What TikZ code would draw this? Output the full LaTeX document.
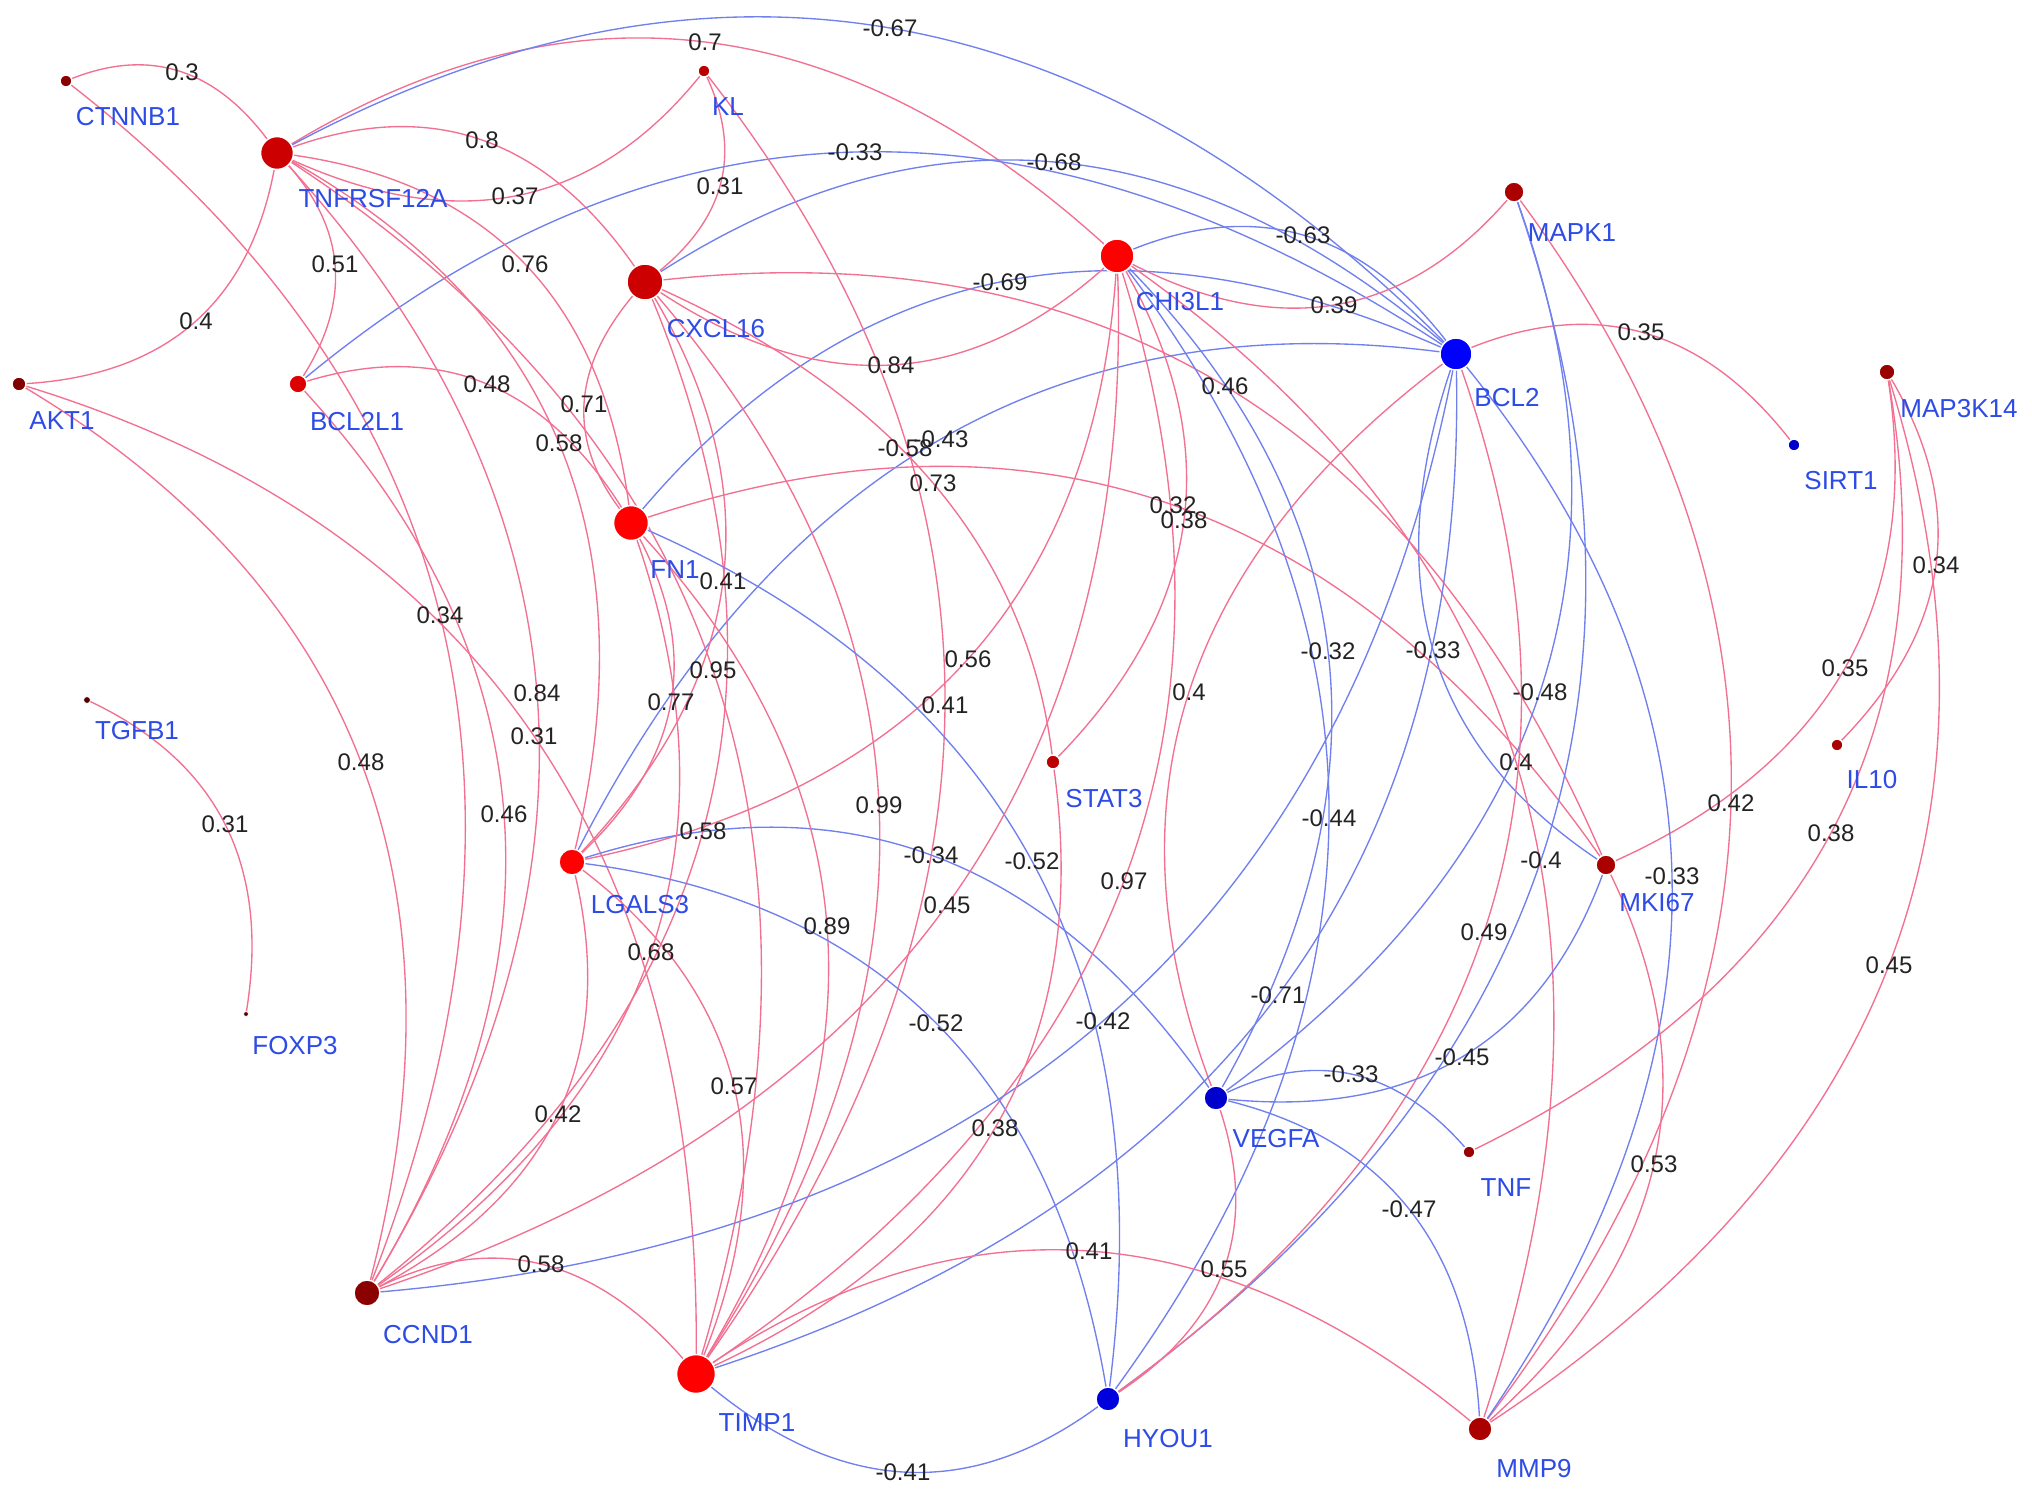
\documentclass[tikz,border=0pt]{standalone}
\usepackage{fontspec}
\setmainfont{Liberation Sans}
\usetikzlibrary{calc}
\pgfdeclarelayer{paper}
\pgfdeclarelayer{edges}
\pgfsetlayers{paper,edges,main}
\definecolor{pinkE}{RGB}{242,112,145}
\definecolor{blueE}{RGB}{112,128,238}
\definecolor{gname}{RGB}{45,75,230}
\definecolor{numc}{RGB}{35,35,35}
\newcounter{elab}
\newcommand\gedge[5]{%
  \begin{pgfonlayer}{edges}
  \draw[#1] (#2.center) .. controls ($1.3333*(#4)-0.3333*(#3.center)$) and ($1.3333*(#4)-0.3333*(#2.center)$) .. (#3.center);
  \end{pgfonlayer}%
  \stepcounter{elab}%
  \node[num] (e\theelab) at (#4) {#5};}
\begin{document}
\begin{tikzpicture}[x=1pt,y=-1pt,
  gene/.style={circle,draw=white,line width=1.5pt,inner sep=0pt},
  gl/.style={text=gname,font=\fontsize{26}{28}\selectfont,inner sep=0pt},
  num/.style={text=numc,font=\fontsize{24}{26}\selectfont,inner sep=0pt},
  pe/.style={draw=pinkE,line width=1.35pt},
  be/.style={draw=blueE,line width=1.35pt}]
\begin{pgfonlayer}{paper}
\fill[white] (0,0) rectangle (2032,1494);
\end{pgfonlayer}
\useasboundingbox (0,0) rectangle (2032,1494);

% gene nodes
\node[gene,fill={rgb,255:red,139;green,0;blue,0},minimum size=12pt] (CT) at (66,81) {};
\node[gene,fill={rgb,255:red,204;green,0;blue,0},minimum size=33pt] (TN) at (277,153) {};
\node[gene,fill={rgb,255:red,187;green,0;blue,0},minimum size=12pt] (KL) at (704,71) {};
\node[gene,fill={rgb,255:red,204;green,0;blue,0},minimum size=36pt] (CX) at (645,282) {};
\node[gene,fill={rgb,255:red,255;green,0;blue,0},minimum size=34pt] (CH) at (1117,256) {};
\node[gene,fill={rgb,255:red,170;green,0;blue,0},minimum size=20pt] (MA) at (1514,192) {};
\node[gene,fill={rgb,255:red,0;green,0;blue,255},minimum size=32pt] (B2) at (1456,354) {};
\node[gene,fill={rgb,255:red,0;green,0;blue,204},minimum size=12pt] (SI) at (1794,445) {};
\node[gene,fill={rgb,255:red,153;green,0;blue,0},minimum size=16pt] (M3) at (1887,372) {};
\node[gene,fill={rgb,255:red,128;green,0;blue,0},minimum size=14pt] (AK) at (19,384) {};
\node[gene,fill={rgb,255:red,221;green,0;blue,0},minimum size=18pt] (BL) at (298,384) {};
\node[gene,fill={rgb,255:red,255;green,0;blue,0},minimum size=35pt] (FN) at (631,523) {};
\node[gene,fill={rgb,255:red,85;green,0;blue,0},minimum size=7pt,line width=0.8pt] (TG) at (87,700) {};
\node[gene,fill={rgb,255:red,85;green,0;blue,0},minimum size=5pt,line width=0.8pt] (FO) at (246,1014) {};
\node[gene,fill={rgb,255:red,255;green,0;blue,0},minimum size=26pt] (LG) at (572,862) {};
\node[gene,fill={rgb,255:red,187;green,0;blue,0},minimum size=14pt] (ST) at (1053,762) {};
\node[gene,fill={rgb,255:red,170;green,0;blue,0},minimum size=12pt] (IL) at (1837,745) {};
\node[gene,fill={rgb,255:red,170;green,0;blue,0},minimum size=20pt] (MK) at (1606,865) {};
\node[gene,fill={rgb,255:red,0;green,0;blue,204},minimum size=24pt] (VE) at (1216,1098) {};
\node[gene,fill={rgb,255:red,153;green,0;blue,0},minimum size=12pt] (TF) at (1469,1152) {};
\node[gene,fill={rgb,255:red,139;green,0;blue,0},minimum size=26pt] (CC) at (367,1293) {};
\node[gene,fill={rgb,255:red,255;green,0;blue,0},minimum size=39pt] (TI) at (696,1374) {};
\node[gene,fill={rgb,255:red,0;green,0;blue,221},minimum size=24pt] (HY) at (1108,1399) {};
\node[gene,fill={rgb,255:red,170;green,0;blue,0},minimum size=24pt] (MM) at (1480,1429) {};

% gene labels
\node[gl] (CTl) at (128,117) {CTNNB1};
\node[gl] (TNl) at (373,199) {TNFRSF12A};
\node[gl] (AKl) at (62,421) {AKT1};
\node[gl] (BLl) at (357,422) {BCL2L1};
\node[gl] (KLl) at (728,107) {KL};
\node[gl] (CXl) at (716,329) {CXCL16};
\node[gl] (CHl) at (1180,302) {CHI3L1};
\node[gl] (B2l) at (1507,398) {BCL2};
\node[gl] (MAl) at (1572,233) {MAPK1};
\node[gl] (SIl) at (1841,481) {SIRT1};
\node[gl] (M3l) at (1959,409) {MAP3K14};
\node[gl] (TGl) at (137,731) {TGFB1};
\node[gl] (FOl) at (295,1046) {FOXP3};
\node[gl] (CCl) at (428,1335) {CCND1};
\node[gl] (FNl) at (675,570) {FN1};
\node[gl] (LGl) at (640,905) {LGALS3};
\node[gl] (STl) at (1104,799) {STAT3};
\node[gl] (MKl) at (1657,903) {MKI67};
\node[gl] (ILl) at (1872,780) {IL10};
\node[gl] (TIl) at (757,1423) {TIMP1};
\node[gl] (HYl) at (1168,1439) {HYOU1};
\node[gl] (VEl) at (1276,1139) {VEGFA};
\node[gl] (TFl) at (1506,1188) {TNF};
\node[gl] (MMl) at (1534,1469) {MMP9};

% edges
\gedge{pe}{CT}{TN}{182,72}{0.3}
\gedge{pe}{TN}{CH}{705,42}{0.7}
\gedge{be}{TN}{B2}{890,28}{-0.67}
\gedge{pe}{TN}{CX}{482,140}{0.8}
\gedge{pe}{TN}{KL}{515,196}{0.37}
\gedge{pe}{KL}{CX}{720,186}{0.31}
\gedge{be}{BL}{B2}{855,152}{-0.33}
\gedge{be}{CX}{B2}{1054,162}{-0.68}
\gedge{be}{CH}{B2}{1303,235}{-0.63}
\gedge{pe}{CH}{MA}{1334,305}{0.39}
\gedge{pe}{TN}{BL}{335,264}{0.51}
\gedge{pe}{AK}{TN}{196,321}{0.4}
\gedge{pe}{BL}{FN}{487,384}{0.48}
\gedge{be}{FN}{B2}{1000,282}{-0.69}
\gedge{pe}{CX}{CH}{891,365}{0.84}
\gedge{pe}{CX}{MK}{1225,386}{0.46}
\gedge{pe}{B2}{SI}{1641,332}{0.35}
\gedge{pe}{TG}{FO}{225,824}{0.31}
\gedge{pe}{AK}{CC}{361,762}{0.48}
\gedge{pe}{TN}{FN}{525,264}{0.76}
\gedge{pe}{CX}{FN}{584,404}{0.71}
\gedge{pe}{TN}{LG}{559,443}{0.58}
\gedge{be}{LG}{B2}{941,439}{-0.43}
\node[num] (e58) at (905,448) {-0.58};
\gedge{pe}{ST}{CX}{933,483}{0.73}
\gedge{pe}{FN}{MK}{1173,505}{0.32}
\gedge{pe}{CH}{ST}{1184,520}{0.38}
\gedge{pe}{CT}{CC}{440,615}{0.34}
\gedge{pe}{TN}{CC}{537,693}{0.84}
\gedge{pe}{AK}{TI}{534,736}{0.31}
\gedge{pe}{BL}{CC}{504,814}{0.46}
\gedge{pe}{TN}{TI}{713,670}{0.95}
\gedge{pe}{FN}{LG}{671,702}{0.77}
\gedge{pe}{CX}{LG}{723,581}{0.41}
\gedge{pe}{LG}{CH}{968,659}{0.56}
\gedge{pe}{KL}{TI}{945,705}{0.41}
\gedge{pe}{B2}{VE}{1189,692}{0.4}
\gedge{be}{CH}{VE}{1328,651}{-0.32}
\gedge{be}{B2}{MK}{1433,650}{-0.33}
\gedge{be}{MA}{VE}{1540,692}{-0.48}
\gedge{pe}{CH}{MM}{1516,762}{0.4}
\gedge{pe}{MA}{MM}{1731,803}{0.42}
\gedge{pe}{TF}{M3}{1831,833}{0.38}
\gedge{pe}{M3}{MK}{1845,668}{0.35}
\gedge{pe}{M3}{IL}{1936,565}{0.34}
\gedge{pe}{CX}{CC}{703,831}{0.58}
\gedge{pe}{CX}{TI}{879,805}{0.99}
\gedge{be}{LG}{VE}{931,855}{-0.34}
\gedge{be}{FN}{HY}{1032,861}{-0.52}
\gedge{pe}{TI}{CH}{1124,881}{0.97}
\gedge{be}{CH}{HY}{1329,818}{-0.44}
\gedge{be}{MA}{HY}{1541,860}{-0.4}
\gedge{be}{B2}{MM}{1672,876}{-0.33}
\gedge{pe}{CC}{CH}{947,905}{0.45}
\gedge{pe}{FN}{TI}{827,926}{0.89}
\gedge{pe}{FN}{CC}{651,952}{0.68}
\gedge{pe}{HY}{B2}{1484,932}{0.49}
\gedge{pe}{M3}{MM}{1889,965}{0.45}
\gedge{be}{LG}{HY}{936,1023}{-0.52}
\gedge{be}{CC}{B2}{1103,1021}{-0.42}
\gedge{be}{TI}{B2}{1278,995}{-0.71}
\gedge{be}{VE}{TF}{1351,1074}{-0.33}
\gedge{be}{MK}{VE}{1462,1057}{-0.45}
\gedge{pe}{LG}{CC}{558,1114}{0.42}
\gedge{pe}{LG}{TI}{734,1086}{0.57}
\gedge{pe}{TI}{ST}{995,1128}{0.38}
\gedge{pe}{MK}{MM}{1654,1164}{0.53}
\gedge{be}{VE}{MM}{1409,1209}{-0.47}
\gedge{pe}{TI}{MM}{1089,1251}{0.41}
\gedge{pe}{VE}{HY}{1224,1269}{0.55}
\gedge{pe}{CC}{TI}{541,1264}{0.58}
\gedge{be}{TI}{HY}{903,1472}{-0.41}
\end{tikzpicture}
\end{document}
